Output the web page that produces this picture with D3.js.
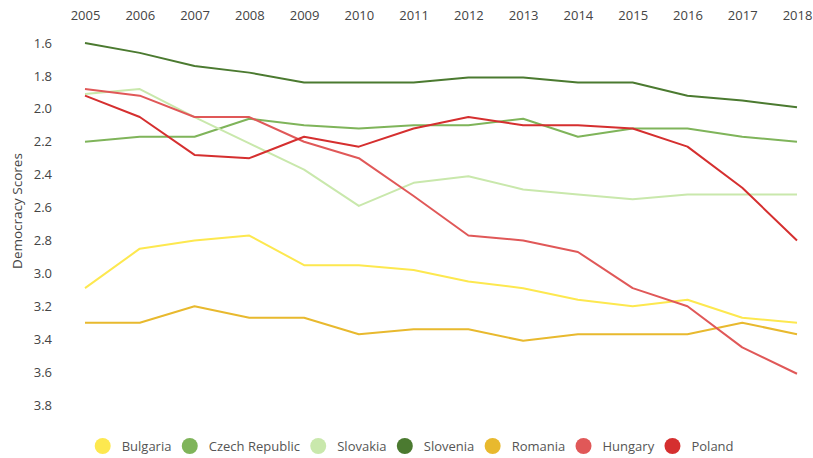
<!DOCTYPE html>
<html>
<head>
<meta charset="utf-8">
<script src="https://cdn.jsdelivr.net/npm/d3@7"></script>
<style>
  body { margin: 0; background: #fff; }
  svg text { font-family: "Open Sans", sans-serif; fill: #444; }
</style>
</head>
<body>
<svg id="chart" width="813" height="458"></svg>
<script>
var years = [2005, 2006, 2007, 2008, 2009, 2010, 2011, 2012, 2013, 2014, 2015, 2016, 2017, 2018];
var yTicks = [1.6, 1.8, 2.0, 2.2, 2.4, 2.6, 2.8, 3.0, 3.2, 3.4, 3.6, 3.8];
var countries = ["Bulgaria", "Czech Republic", "Slovakia", "Slovenia", "Romania", "Hungary", "Poland"];
var colors = ["#fde84f", "#7fb45a", "#c9e8ac", "#4b7a30", "#e8b92e", "#e05858", "#d52f2f"];

var bulgaria = [3.09, 2.85, 2.80, 2.77, 2.95, 2.95, 2.98, 3.05, 3.09, 3.16, 3.20, 3.16, 3.27, 3.30];
var czech    = [2.20, 2.17, 2.17, 2.06, 2.10, 2.12, 2.10, 2.10, 2.06, 2.17, 2.12, 2.12, 2.17, 2.20];
var slovakia = [1.91, 1.88, 2.05, 2.21, 2.37, 2.59, 2.45, 2.41, 2.49, 2.52, 2.55, 2.52, 2.52, 2.52];
var slovenia = [1.60, 1.66, 1.74, 1.78, 1.84, 1.84, 1.84, 1.81, 1.81, 1.84, 1.84, 1.92, 1.95, 1.99];
var romania  = [3.30, 3.30, 3.20, 3.27, 3.27, 3.37, 3.34, 3.34, 3.41, 3.37, 3.37, 3.37, 3.30, 3.37];
var hungary  = [1.88, 1.92, 2.05, 2.05, 2.20, 2.30, 2.53, 2.77, 2.80, 2.87, 3.09, 3.20, 3.45, 3.61];
var poland   = [1.92, 2.05, 2.28, 2.30, 2.17, 2.23, 2.12, 2.05, 2.10, 2.10, 2.12, 2.23, 2.48, 2.80];

var series = [bulgaria, czech, slovakia, slovenia, romania, hungary, poland];

var svg = d3.select("#chart");

var x = d3.scalePoint().domain(years).range([85, 797]);
var y = d3.scaleLinear().domain([1.6, 3.8]).range([43, 405]);

// top year labels
var xAxis = svg.append("g").attr("transform", "translate(0,20)")
    .call(d3.axisTop(x).tickSize(0).tickPadding(0));
xAxis.select(".domain").remove();
xAxis.selectAll("text").attr("font-size", 13).attr("dy", "0em").style("fill", "#444");

// left score labels
var yAxis = svg.append("g").attr("transform", "translate(52,0)")
    .call(d3.axisLeft(y).tickValues(yTicks).tickFormat(d3.format(".1f")).tickSize(0).tickPadding(0));
yAxis.select(".domain").remove();
yAxis.selectAll("text").attr("font-size", 13).style("fill", "#444");

svg.append("text")
    .attr("transform", "translate(22,211) rotate(-90)")
    .attr("text-anchor", "middle")
    .attr("font-size", 13.5)
    .text("Democracy Scores");

var line = d3.line()
    .x(function(d, i) { return x(years[i]); })
    .y(function(d) { return y(d); });

series.forEach(function(data, index) {
    svg.append("path")
        .attr("d", line(data))
        .attr("fill", "none")
        .attr("stroke", colors[index])
        .attr("stroke-width", 2)
        .attr("stroke-linejoin", "round");
});

// legend
var legend = svg.append("g").attr("class", "legend");
var cx = 102.7;
countries.forEach(function(name, index) {
    legend.append("circle").attr("cx", cx).attr("cy", 446).attr("r", 8).attr("fill", colors[index]);
    var t = legend.append("text").attr("x", cx + 19).attr("y", 446).attr("dy", "0.35em")
        .attr("font-size", 13).style("fill", "#555").text(name);
    cx = cx + 19 + t.node().getComputedTextLength() + 18.3;
});
</script>
</body>
</html>
